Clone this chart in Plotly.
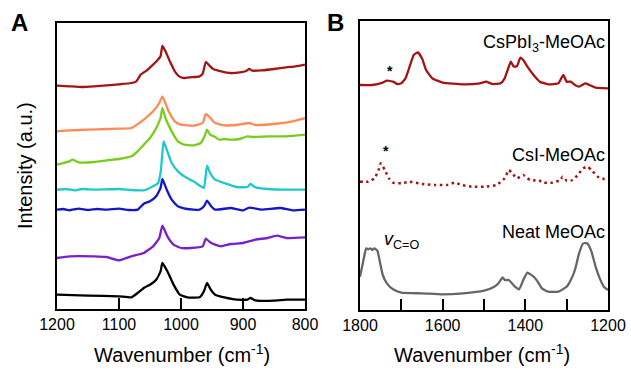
import plotly.graph_objects as go

W, H = 631, 372

# ---------------- Panel A data (wavenumber, intensity a.u.) ----------------
a_red_x = [1200, 1180, 1160, 1140, 1120, 1100, 1080, 1072, 1065, 1055, 1045, 1038, 1033, 1030, 1025, 1018, 1010, 1003, 995, 985, 970, 965, 960, 955, 948, 935, 920, 905, 895, 890, 885, 870, 850, 830, 815, 800]
a_red_y = [672, 670, 668, 670, 673, 676, 680, 685, 705, 718, 735, 748, 760, 792, 775, 745, 715, 700, 695, 697, 700, 708, 743, 734, 722, 715, 710, 712, 716, 722, 717, 718, 722, 727, 730, 735]

a_orange_x = [1200, 1180, 1150, 1120, 1100, 1080, 1060, 1045, 1035, 1030, 1020, 1010, 1000, 980, 965, 960, 955, 945, 930, 910, 890, 880, 850, 820, 800]
a_orange_y = [535, 538, 540, 542, 543, 545, 570, 595, 620, 640, 595, 565, 555, 552, 560, 587, 580, 560, 553, 554, 560, 554, 557, 565, 575]

a_green_x = [1200, 1180, 1175, 1165, 1140, 1120, 1100, 1080, 1070, 1060, 1050, 1040, 1033, 1030, 1025, 1015, 1005, 995, 980, 968, 962, 958, 953, 945, 938, 930, 920, 905, 893, 885, 860, 830, 800]
a_green_y = [435, 445, 450, 442, 443, 448, 452, 460, 475, 495, 515, 545, 575, 605, 575, 535, 505, 495, 493, 500, 520, 540, 525, 518, 510, 512, 510, 512, 520, 518, 520, 520, 525]

a_cyan_x = [1200, 1185, 1170, 1160, 1140, 1120, 1100, 1080, 1060, 1045, 1037, 1033, 1030, 1028, 1022, 1015, 1005, 995, 980, 968, 963, 958, 953, 945, 930, 910, 893, 888, 880, 860, 830, 800]
a_cyan_y = [360, 362, 358, 362, 360, 361, 362, 359, 358, 370, 380, 410, 470, 505, 475, 440, 415, 400, 385, 370, 365, 432, 410, 390, 380, 368, 368, 377, 367, 362, 360, 360]

a_blue_x = [1200, 1190, 1180, 1165, 1150, 1135, 1120, 1100, 1085, 1070, 1060, 1050, 1040, 1033, 1030, 1023, 1015, 1005, 990, 970, 963, 958, 952, 945, 920, 900, 890, 870, 840, 820, 800]
a_blue_y = [300, 302, 298, 303, 299, 302, 300, 303, 299, 300, 318, 325, 340, 365, 392, 360, 330, 310, 302, 300, 310, 327, 312, 300, 305, 298, 306, 300, 305, 298, 300]

a_purple_x = [1200, 1180, 1140, 1120, 1100, 1080, 1060, 1045, 1035, 1030, 1022, 1012, 1000, 985, 965, 960, 953, 945, 935, 920, 900, 880, 860, 845, 830, 800]
a_purple_y = [155, 160, 160, 158, 148, 160, 170, 190, 215, 252, 220, 195, 185, 185, 190, 213, 202, 195, 190, 197, 200, 210, 215, 222, 215, 217]

a_black_x = [1200, 1150, 1100, 1080, 1070, 1060, 1050, 1040, 1033, 1030, 1022, 1012, 1002, 990, 970, 963, 958, 952, 945, 930, 910, 893, 888, 880, 850, 830, 800]
a_black_y = [45, 42, 40, 37, 50, 65, 75, 90, 115, 140, 115, 75, 45, 37, 37, 55, 80, 60, 45, 37, 30, 30, 35, 28, 27, 30, 30]

a_ticks = [1200, 1100, 1000, 900, 800]
a_ticklabels = ["1200", "1100", "1000", "900", "800"]

# ---------------- Panel B data ----------------
b_pb_x = [1800, 1770, 1745, 1735, 1720, 1710, 1700, 1690, 1680, 1670, 1660, 1650, 1640, 1625, 1600, 1550, 1510, 1495, 1480, 1460, 1450, 1440, 1435, 1428, 1420, 1412, 1405, 1395, 1380, 1365, 1345, 1320, 1312, 1308, 1300, 1290, 1280, 1270, 1255, 1245, 1230, 1200]
b_pb_y = [675, 675, 682, 688, 685, 678, 680, 695, 730, 765, 773, 755, 720, 695, 682, 677, 680, 685, 678, 680, 695, 730, 745, 730, 732, 757, 750, 730, 705, 685, 677, 680, 698, 705, 685, 685, 675, 670, 680, 675, 667, 665]

b_csi_x = [1800, 1780, 1765, 1755, 1750, 1740, 1730, 1720, 1700, 1680, 1650, 1620, 1590, 1570, 1555, 1530, 1500, 1470, 1450, 1440, 1432, 1420, 1405, 1395, 1385, 1370, 1355, 1335, 1315, 1310, 1300, 1285, 1270, 1260, 1250, 1240, 1225, 1210, 1200]
b_csi_y = [385, 385, 395, 420, 440, 420, 395, 382, 380, 385, 378, 375, 375, 382, 375, 370, 370, 375, 395, 420, 410, 395, 405, 395, 388, 390, 382, 382, 390, 400, 388, 390, 410, 425, 430, 420, 400, 393, 390]

b_neat_x = [1800, 1795, 1790, 1785, 1780, 1775, 1770, 1765, 1758, 1752, 1745, 1735, 1720, 1700, 1650, 1600, 1550, 1500, 1475, 1465, 1455, 1450, 1440, 1425, 1415, 1405, 1395, 1380, 1370, 1360, 1345, 1320, 1300, 1290, 1280, 1270, 1260, 1250, 1240, 1230, 1220, 1210, 1200]
b_neat_y = [100, 130, 160, 185, 182, 185, 180, 185, 178, 145, 105, 80, 62, 52, 50, 47, 50, 58, 70, 80, 98, 90, 90, 70, 62, 90, 112, 100, 85, 65, 55, 55, 70, 90, 120, 170, 200, 200, 175, 130, 95, 70, 60]

b_ticks = [1800, 1700, 1600, 1500, 1400, 1300, 1200]
b_ticklabels = ["1800", "", "1600", "", "1400", "", "1200"]

# ---------------- Figure ----------------
RED = "#a31515"
fig = go.Figure()

lw = 2.3
for xs, ys, col in [
    (a_red_x, a_red_y, RED),
    (a_orange_x, a_orange_y, "#ff8a55"),
    (a_green_x, a_green_y, "#78cc1c"),
    (a_cyan_x, a_cyan_y, "#20c8cc"),
    (a_blue_x, a_blue_y, "#1515cc"),
    (a_purple_x, a_purple_y, "#7a1fcc"),
    (a_black_x, a_black_y, "#000000"),
]:
    fig.add_trace(go.Scatter(x=xs, y=ys, mode="lines", line=dict(color=col, width=lw, shape="spline", smoothing=0.4),
                             xaxis="x", yaxis="y", showlegend=False, hoverinfo="skip"))

fig.add_trace(go.Scatter(x=b_pb_x, y=b_pb_y, mode="lines", line=dict(color=RED, width=lw, shape="spline", smoothing=0.4),
                         xaxis="x2", yaxis="y2", showlegend=False, hoverinfo="skip"))
fig.add_trace(go.Scatter(x=b_csi_x, y=b_csi_y, mode="lines", line=dict(color=RED, width=2.5, dash="2.5px,3.5px", shape="spline", smoothing=0.4),
                         xaxis="x2", yaxis="y2", showlegend=False, hoverinfo="skip"))
fig.add_trace(go.Scatter(x=b_neat_x, y=b_neat_y, mode="lines", line=dict(color="#666666", width=lw, shape="spline", smoothing=0.4),
                         xaxis="x2", yaxis="y2", showlegend=False, hoverinfo="skip"))

FONT = "Liberation Sans, Arial, Helvetica, sans-serif"
axis_common = dict(showline=True, mirror=True, linecolor="black", linewidth=2, automargin=False,
                   showgrid=False, zeroline=False, ticks="inside", ticklen=11, tickwidth=1.5,
                   tickcolor="black", tickfont=dict(size=16, color="black", family=FONT))
yaxis_common = dict(showticklabels=False, automargin=False, showline=True, mirror=True, linecolor="black",
                    linewidth=2, showgrid=False, zeroline=False, ticks="")

def px2x(p):
    return p / W

def py2y(p):
    return 1 - p / H

fig.update_layout(
    width=W, height=H, margin=dict(l=0, r=0, t=0, b=0, autoexpand=False),
    paper_bgcolor="white", plot_bgcolor="white",
    font=dict(family=FONT, color="black"),
    xaxis=dict(domain=[px2x(57), px2x(305)], range=[1200, 800], tickvals=a_ticks, ticktext=a_ticklabels,
               anchor="y", **axis_common),
    yaxis=dict(domain=[py2y(309), py2y(23)], range=[2, 860], anchor="x", **yaxis_common),
    xaxis2=dict(domain=[px2x(360), px2x(608)], range=[1800, 1200], tickvals=b_ticks, ticktext=b_ticklabels,
                anchor="y2", **axis_common),
    yaxis2=dict(domain=[py2y(310), py2y(21)], range=[0, 867], anchor="x2", **yaxis_common),
)

ann = []
def add(text, x, y, size, xanchor="center", yanchor="middle", textangle=0, xr=None, yr=None):
    d = dict(text=text, showarrow=False, font=dict(size=size, color="black", family=FONT),
             xanchor=xanchor, yanchor=yanchor, textangle=textangle)
    if xr:
        d.update(x=x, y=y, xref=xr, yref=yr)
    else:
        d.update(x=px2x(x), y=py2y(y), xref="paper", yref="paper")
    ann.append(d)

add("<b>A</b>", 19, 23, 24)
add("<b>B</b>", 335, 23, 24)
add("Wavenumber (cm<sup>-1</sup>)", 182, 353, 20)
add("Wavenumber (cm<sup>-1</sup>)", 482, 353, 20)
add("Intensity (a.u.)", 25, 166, 20, textangle=-90)
add("CsPbI<sub>3</sub>-MeOAc", 607, 43, 18, xanchor="right")
add("CsI-MeOAc", 607, 155, 18, xanchor="right")
add("Neat MeOAc", 607, 232, 18, xanchor="right")
add("<i>v</i><sub>C=O</sub>", 382, 240, 18, xanchor="left")
add("<b>*</b>", 1728, 717, 14, xr="x2", yr="y2")
add("<b>*</b>", 1737, 477, 14, xr="x2", yr="y2")
fig.update_layout(annotations=ann)

fig.write_html("out.html", config={"displayModeBar": False},
               post_script="document.body.style.margin='0';document.body.style.overflow='hidden';")
